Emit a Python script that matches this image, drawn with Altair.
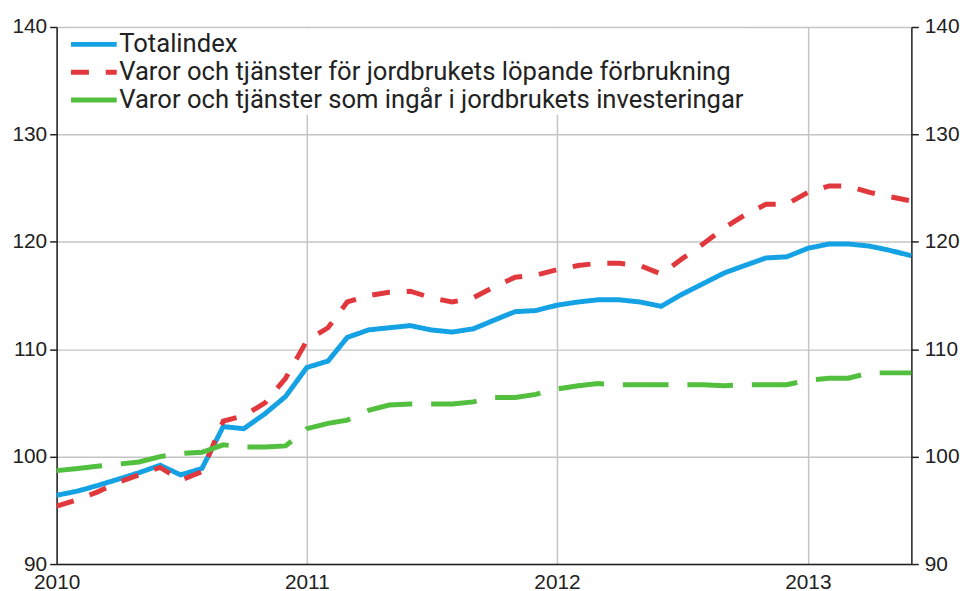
import altair as alt
import pandas as pd

# Monthly observations, January 2010 – June 2013
months = [f"{2010 + i // 12}-{i % 12 + 1:02d}-01" for i in range(42)]

series_names = [
    "Totalindex",
    "Varor och tjänster för jordbrukets löpande förbrukning",
    "Varor och tjänster som ingår i jordbrukets investeringar",
]

totalindex = [96.4, 96.8, 97.3, 97.9, 98.5, 99.2, 98.3, 98.9, 102.8, 102.6, 104.0, 105.6,
              108.3, 108.9, 111.1, 111.8, 112.0, 112.2, 111.8, 111.6, 111.9, 112.7, 113.5, 113.6,
              114.1, 114.4, 114.6, 114.6, 114.4, 114.0, 115.1, 116.1, 117.1, 117.8, 118.5, 118.6,
              119.4, 119.8, 119.8, 119.6, 119.2, 118.7]
lopande = [95.4, 96.0, 96.7, 97.6, 98.3, 99.0, 97.8, 98.6, 103.3, 103.8, 105.0, 107.3,
           110.8, 112.0, 114.4, 115.0, 115.3, 115.4, 114.8, 114.4, 114.8, 115.8, 116.7, 116.9,
           117.4, 117.8, 118.0, 118.0, 117.8, 117.0, 118.4, 119.8, 121.3, 122.5, 123.5, 123.5,
           124.6, 125.2, 125.2, 124.6, 124.2, 123.8]
investeringar = [98.7, 98.9, 99.1, 99.3, 99.5, 100.0, 100.3, 100.4, 101.1, 100.9, 100.9, 101.0,
                 102.6, 103.1, 103.4, 104.3, 104.8, 104.9, 104.9, 104.9, 105.1, 105.5, 105.5, 105.8,
                 106.3, 106.6, 106.8, 106.7, 106.7, 106.7, 106.7, 106.7, 106.6, 106.7, 106.7, 106.7,
                 107.1, 107.3, 107.3, 107.8, 107.8, 107.8]

y_ticks = [90, 100, 110, 120, 130, 140]
x_years = [2010, 2011, 2012, 2013]

colors = ["#14a2e4", "#e0383c", "#52bf3f"]
dashes = [[1, 0], [18, 17], [46, 19]]

rows = []
for name, vals in zip(series_names, [totalindex, lopande, investeringar]):
    for m, v in zip(months, vals):
        rows.append({"month": m, "serie": name, "value": v})
df = pd.DataFrame(rows)

x_scale = alt.Scale(
    type="utc",
    domain=[alt.DateTime(year=2010, month=1, date=1, utc=True),
            alt.DateTime(year=2013, month=6, date=1, utc=True)],
)
y_scale = alt.Scale(domain=[90, 140], nice=False, zero=False)

x_axis = alt.Axis(
    title=None,
    values=[alt.DateTime(year=y, month=1, date=1, utc=True) for y in x_years],
    format="%Y",
    tickSize=0,
    labelPadding=8,
    labelFlush=False,
    grid=True,
    gridColor="#c4c4c4",
    gridWidth=1.5,
    domainColor="#222222",
    domainWidth=1.5,
    labelFont="Liberation Sans",
    labelFontSize=21,
    labelColor="#222222",
)

legend = alt.Legend(
    title=None,
    orient="none",
    legendX=10,
    legendY=1.5,
    fillColor="white",
    padding=2,
    symbolType="M-1,0H3",
    symbolSize=529,
    symbolStrokeWidth=5,
    labelFont="Roboto",
    labelFontSize=25.8,
    labelColor="#222222",
    labelOffset=23,
    labelLimit=0,
    rowPadding=1,
)

lines = alt.Chart(df).mark_line(strokeWidth=5).encode(
    x=alt.X("month:T", scale=x_scale, axis=x_axis),
    y=alt.Y("value:Q", scale=y_scale, axis=alt.Axis(
        title=None, orient="left", values=y_ticks, tickSize=7, tickColor="#222222",
        tickWidth=1.5, labelPadding=3, grid=True, gridColor="#c4c4c4", gridWidth=1.5,
        domainColor="#222222", domainWidth=1.5, labelFont="Liberation Sans",
        labelFontSize=21, labelColor="#222222")),
    color=alt.Color("serie:N", scale=alt.Scale(domain=series_names, range=colors),
                    sort=series_names, legend=legend),
    strokeDash=alt.StrokeDash("serie:N", scale=alt.Scale(domain=series_names, range=dashes),
                              sort=series_names, legend=legend),
)

right = alt.Chart(df).mark_point(opacity=0).encode(
    x=alt.X("month:T", scale=x_scale, axis=x_axis),
    y=alt.Y("value:Q", scale=y_scale, axis=alt.Axis(
        title=None, orient="right", values=y_ticks, tickSize=7, tickColor="#222222",
        tickWidth=1.5, labelPadding=6, grid=False, domainColor="#222222", domainWidth=1.5,
        labelFont="Liberation Sans", labelFontSize=21, labelColor="#222222")),
)

chart = alt.layer(right, lines).resolve_axis(y="independent").properties(
    width=861,
    height=541,
    autosize=alt.AutoSizeParams(type="none"),
    padding={"left": 49, "top": 17, "right": 50, "bottom": 25},
).configure_view(stroke="#222222", strokeWidth=1.5).configure(background="white")

chart.save("out.html", embed_options={"renderer": "svg", "actions": False})
